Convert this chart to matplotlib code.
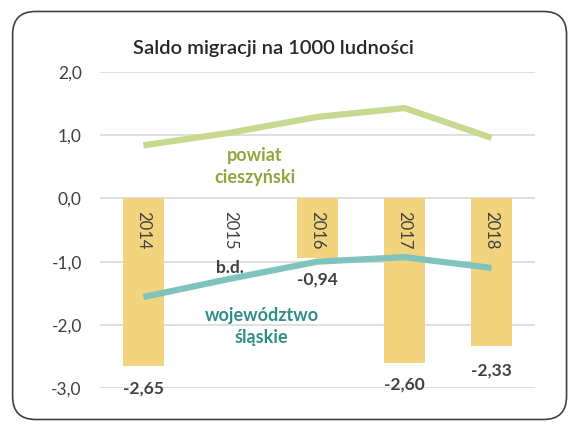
import matplotlib.pyplot as plt
from matplotlib.patches import FancyBboxPatch
import numpy as np

years = ["2014", "2015", "2016", "2017", "2018"]
powiat_bars = [-2.65, np.nan, -0.94, -2.60, -2.33]
bar_labels = ["-2,65", "b.d.", "-0,94", "-2,60", "-2,33"]
powiat_line = [0.84, 1.04, 1.29, 1.43, 0.96]
woj_line = [-1.56, -1.27, -1.00, -0.93, -1.10]
yticks = [2, 1, 0, -1, -2, -3]
ytick_labels = ["2,0", "1,0", "0,0", "-1,0", "-2,0", "-3,0"]

C_BAR = "#F2D47E"
C_POW = "#C6D98E"
C_WOJ = "#7EC3BD"
C_POW_TXT = "#8FA63C"
C_WOJ_TXT = "#2F8F88"
C_TXT = "#404040"

plt.rcParams["font.family"] = ["Lato", "DejaVu Sans"]

fig = plt.figure(figsize=(5.74, 4.25), dpi=100)
fig.patch.set_facecolor("white")
frame = FancyBboxPatch((0.022, 0.013), 0.965, 0.96, boxstyle="round,pad=0,rounding_size=0.04",
                       transform=fig.transFigure, facecolor="none", zorder=5,
                       edgecolor="#404040", linewidth=1.2, mutation_aspect=574 / 425)
fig.patches.append(frame)

ax = fig.add_axes([0.174, 0.087, 0.758, 0.7435])
x = np.arange(len(years))
ax.set_xlim(-0.5, 4.5)
ax.set_ylim(-3.0, 2.0)
for t in yticks:
    ax.axhline(t, color="#D9D9D9", linewidth=1.2, zorder=0)

ax.bar(x, np.nan_to_num(powiat_bars), width=0.48, color=C_BAR, zorder=1)
ax.plot(x, powiat_line, color=C_POW, linewidth=4.5, solid_capstyle="butt", zorder=2)
ax.plot(x, woj_line, color=C_WOJ, linewidth=4.5, solid_capstyle="butt", zorder=2)

for xi, y in zip(x, years):
    ax.text(xi, -0.2, y, rotation=-90, ha="center", va="top", fontsize=12, color=C_TXT, zorder=3)

label_pos = [(0, -3.0), (1, -1.1), (2, -1.28), (3, -2.95), (4, -2.72)]
for (lx, ly), lab in zip(label_pos, bar_labels):
    ax.text(lx, ly, lab, ha="center", va="center", fontsize=12.5, fontweight="bold", color=C_TXT, zorder=3)

ax.text(1.28, 0.5, "powiat\ncieszyński", ha="center", va="center", fontsize=13,
        fontweight="bold", color=C_POW_TXT, linespacing=1.35)
ax.text(1.36, -2.02, "województwo\nśląskie", ha="center", va="center", fontsize=13,
        fontweight="bold", color=C_WOJ_TXT, linespacing=1.35)

ax.set_yticks(yticks)
ax.set_yticklabels(ytick_labels, fontsize=12.5, color=C_TXT)
ax.set_xticks([])
ax.tick_params(axis="y", length=0, pad=13)
for s in ax.spines.values():
    s.set_visible(False)

fig.text(0.476, 0.887, "Saldo migracji na 1000 ludności", ha="center", va="center",
         fontsize=14.5, fontweight="semibold", color="#262626")

fig.savefig("out.png", dpi=100, facecolor="white")
